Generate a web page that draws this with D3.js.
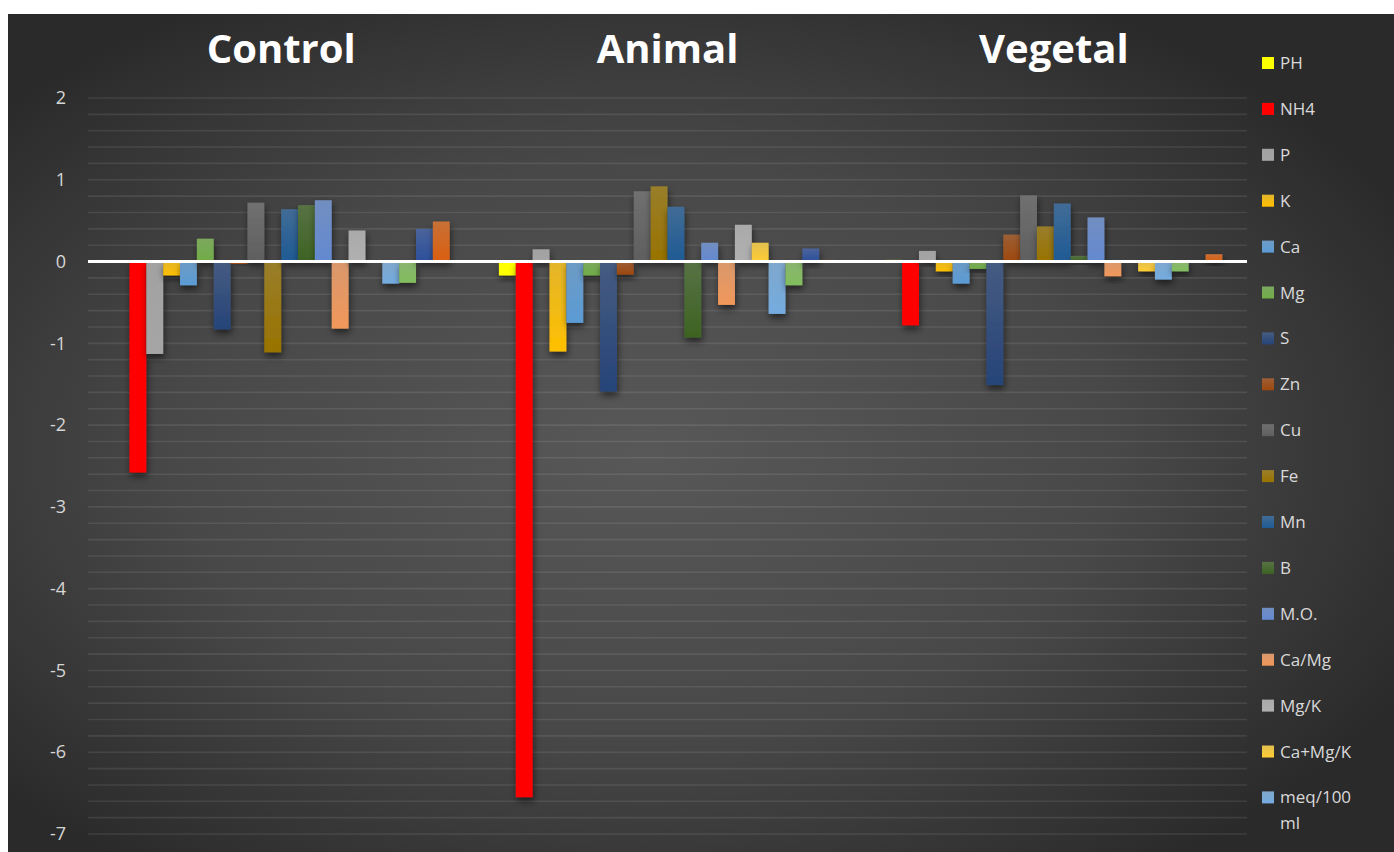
<!DOCTYPE html>
<html>
<head>
<meta charset="utf-8">
<script src="https://cdn.jsdelivr.net/npm/d3@7"></script>
<style>
  html, body { margin: 0; padding: 0; background: #ffffff; }
  svg { display: block; }
</style>
</head>
<body>
<svg id="chart" width="1394" height="852"></svg>
<script>
// Treatments along the x axis
const groups = ["Control", "Animal", "Vegetal"];

// Soil parameters (series), in drawing order
const seriesNames = ["PH", "NH4", "P", "K", "Ca", "Mg", "S", "Zn", "Cu", "Fe", "Mn", "B",
  "M.O.", "Ca/Mg", "Mg/K", "Ca+Mg/K", "meq/100 ml", "CTC", "V%", "Al"];

// Values per treatment, one entry per series
const controlValues = [0, -2.58, -1.13, -0.17, -0.29, 0.28, -0.83, -0.03, 0.72, -1.11, 0.64, 0.69,
  0.75, -0.82, 0.38, 0, -0.27, -0.26, 0.40, 0.49];
const animalValues = [-0.17, -6.55, 0.15, -1.10, -0.75, -0.17, -1.59, -0.16, 0.86, 0.92, 0.67, -0.93,
  0.23, -0.53, 0.45, 0.23, -0.64, -0.29, 0.16, 0.02];
const vegetalValues = [0.02, -0.78, 0.13, -0.12, -0.27, -0.09, -1.51, 0.33, 0.81, 0.43, 0.71, 0.07,
  0.54, -0.18, 0.01, -0.12, -0.22, -0.12, 0, 0.09];

// Series colours
const seriesColors = ["#FFFF00", "#FF0000", "#A5A5A5", "#FFC000", "#5B9BD5", "#70AD47", "#264478",
  "#9E480E", "#5F5F5F", "#997300", "#1F5A94", "#3D6322", "#6389D0", "#F1975A", "#B0B0B0",
  "#FFCD33", "#74ACE0", "#82BE5E", "#2C4F9C", "#DA5F10"];
const flatSeries = ["PH", "NH4"];

// Y axis ticks
const yTicks = [2, 1, 0, -1, -2, -3, -4, -5, -6, -7];

const valuesByGroup = { Control: controlValues, Animal: animalValues, Vegetal: vegetalValues };

const W = 1394, H = 852;
const svg = d3.select("#chart");
const defs = svg.append("defs");

// Background panel with a soft radial glow
const bg = defs.append("radialGradient").attr("id", "bgGrad")
  .attr("cx", "46%").attr("cy", "52%").attr("r", "62%");
bg.append("stop").attr("offset", "0%").attr("stop-color", "#585858");
bg.append("stop").attr("offset", "55%").attr("stop-color", "#484848");
bg.append("stop").attr("offset", "100%").attr("stop-color", "#2a2a2a");
svg.append("rect").attr("x", 8).attr("y", 14).attr("width", W - 8).attr("height", H - 14)
  .attr("fill", "url(#bgGrad)");

// Shadow under bars
const sh = defs.append("filter").attr("id", "barShadow")
  .attr("x", "-50%").attr("y", "-50%").attr("width", "200%").attr("height", "200%");
sh.append("feDropShadow").attr("dx", 1).attr("dy", 4).attr("stdDeviation", 3.5)
  .attr("flood-color", "#000").attr("flood-opacity", 0.55);

// Vertical gradient for each series
seriesNames.forEach((name, i) => {
  const base = d3.color(seriesColors[i]);
  const g = defs.append("linearGradient").attr("id", "sg" + i)
    .attr("x1", 0).attr("y1", 0).attr("x2", 0).attr("y2", 1);
  const flat = flatSeries.includes(name);
  const top = flat ? base : d3.interpolateRgb(base, "#9a9a9a")(0.28);
  g.append("stop").attr("offset", "0%").attr("stop-color", top.toString());
  g.append("stop").attr("offset", "100%").attr("stop-color", base.toString());
});

// Scales
const x0 = d3.scaleBand().domain(groups).range([88, 1247]).padding(0);
const x1 = d3.scaleBand().domain(seriesNames).range([0, x0.bandwidth()])
  .paddingInner(0).paddingOuter(1.46);
const y = d3.scaleLinear().domain([-7, 2]).range([834, 98]);

// Gridlines every 0.2
const gridVals = d3.range(-35, 11).map(v => v / 5);
svg.append("g")
  .selectAll("line").data(gridVals).join("line")
  .attr("x1", 88).attr("x2", 1247)
  .attr("y1", d => y(d)).attr("y2", d => y(d))
  .attr("stroke", "#ffffff").attr("stroke-opacity", 0.09).attr("stroke-width", 1.6);

// Y axis labels (plain hyphen for negatives)
const yAxis = svg.append("g").attr("transform", "translate(66,0)")
  .call(d3.axisLeft(y).tickValues(yTicks).tickSize(0).tickPadding(0).tickFormat(d => String(d)));
yAxis.select(".domain").remove();
yAxis.selectAll("text")
  .attr("fill", "#d6d6d6").attr("font-family", "'Open Sans', sans-serif").attr("font-size", 18);

// Bars
const gGroups = svg.append("g").selectAll("g").data(groups).join("g")
  .attr("transform", d => `translate(${x0(d)},0)`);
gGroups.selectAll("rect")
  .data(g => seriesNames.map((s, i) => ({ s, i, v: valuesByGroup[g][i] })))
  .join("rect")
  .attr("x", d => x1(d.s))
  .attr("width", x1.bandwidth())
  .attr("y", d => y(Math.max(0, d.v)))
  .attr("height", d => Math.abs(y(d.v) - y(0)))
  .attr("fill", d => `url(#sg${d.i})`)
  .attr("filter", "url(#barShadow)");

// Zero line
svg.append("line").attr("x1", 88).attr("x2", 1247).attr("y1", y(0)).attr("y2", y(0))
  .attr("stroke", "#ffffff").attr("stroke-width", 3);

// Group titles
svg.append("g").selectAll("text").data(groups).join("text")
  .attr("x", d => x0(d) + x0.bandwidth() / 2)
  .attr("y", 63)
  .attr("text-anchor", "middle")
  .attr("fill", "#ffffff")
  .attr("font-family", "'Open Sans', sans-serif")
  .attr("font-weight", 700)
  .attr("font-size", 40)
  .text(d => d);

// Legend: entries are stacked down the right side; those that do not fit in the box are left out
const legendTop = 63, legendStep = 45.9, legendBottom = 840;
const legendEntries = seriesNames
  .map((name, i) => ({ name, i }))
  .filter(d => legendTop + d.i * legendStep + (d.name === "meq/100 ml" ? 26 : 0) + 8 <= legendBottom);
const legend = svg.append("g").attr("transform", "translate(1262,0)");
const items = legend.selectAll("g").data(legendEntries).join("g")
  .attr("transform", d => `translate(0,${legendTop + d.i * legendStep})`);
items.append("rect").attr("x", 0).attr("y", -6).attr("width", 12).attr("height", 12)
  .attr("fill", d => `url(#sg${d.i})`);
items.each(function (d) {
  const t = d3.select(this).append("text")
    .attr("x", 18).attr("y", 6)
    .attr("fill", "#d9d9d9").attr("font-family", "'Open Sans', sans-serif").attr("font-size", 17);
  const parts = d.name === "meq/100 ml" ? ["meq/100", "ml"] : [d.name];
  parts.forEach((p, k) => t.append("tspan").attr("x", 18).attr("dy", k === 0 ? 0 : 26).text(p));
});
</script>
</body>
</html>
